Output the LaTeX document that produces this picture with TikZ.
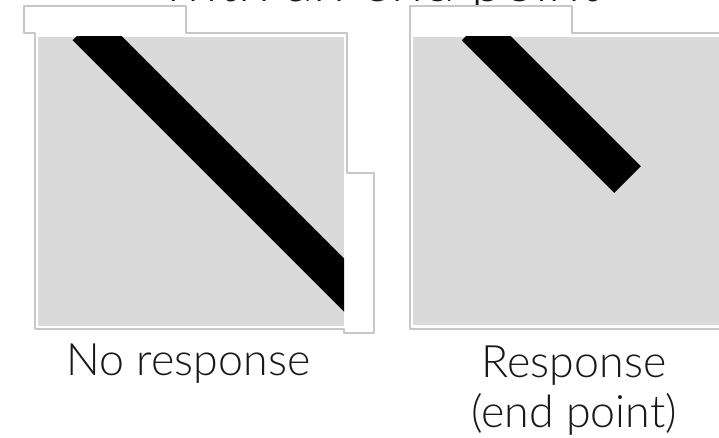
\documentclass[tikz,border=0pt]{standalone}
\usepackage{fontspec}
\setmainfont{Lato Light}
\usepackage{tikz}
\definecolor{cccccc}{rgb}{0.78,0.78,0.78}
\definecolor{dadada}{rgb}{0.855,0.855,0.855}
\definecolor{qqqqqq}{rgb}{0.1,0.1,0.1}
\begin{document}
\begin{tikzpicture}[line cap=round,line join=round,x=1.0pt,y=-1.0pt]
      \useasboundingbox (0,0) rectangle (719,438);
      \clip (0,0) rectangle (719,438);
      \node[color=qqqqqq,font=\fontsize{58}{60}\selectfont,anchor=base] (title) at (380.5,2) {with an end point};
      \draw[color=cccccc,fill=white,line width=1.2pt] (24,6) -- (186,6) -- (186,33) -- (347,33) -- (347,173) -- (374,173) -- (374,333) -- (344,333) -- (344,329) -- (35,329) -- (35,33) -- (24,33) -- cycle;
      \fill[color=dadada] (38,37) rectangle (344,326);
      \begin{scope}
      \clip (38,37) rectangle (344,326);
      \draw[line width=37.5pt,line cap=butt] (86,27) -- (400,341);
      \end{scope}
      \draw[color=cccccc,fill=white,line width=1.2pt] (410,6) -- (572,6) -- (572,33) -- (730,33) -- (730,329) -- (410,329) -- cycle;
      \fill[color=dadada] (413,37) rectangle (730,325);
      \begin{scope}
      \clip (413,37) rectangle (730,325);
      \draw[line width=37.5pt,line cap=butt] (475,27) -- (627.5,179.5);
      \end{scope}
      \node[color=qqqqqq,font=\fontsize{44.7}{50}\selectfont,anchor=base] (noresp) at (188.5,375) {No response};
      \node[color=qqqqqq,font=\fontsize{44.7}{50}\selectfont,align=center,anchor=base] (resp) at (574,427) {Response\\(end point)};
\end{tikzpicture}
\end{document}
